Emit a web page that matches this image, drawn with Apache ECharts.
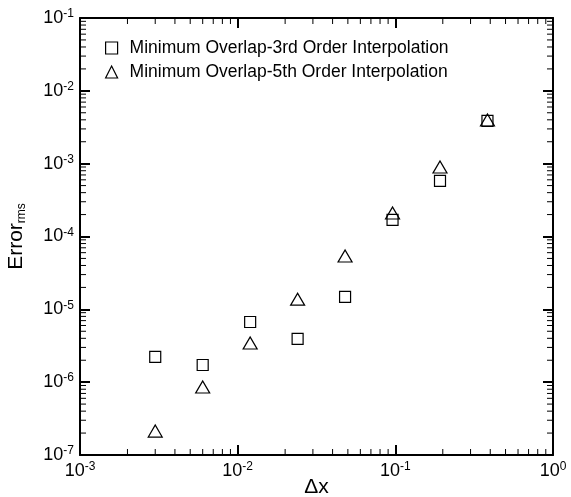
<!DOCTYPE html>
<html><head><meta charset="utf-8">
<script src="https://cdn.jsdelivr.net/npm/echarts@6/dist/echarts.min.js"></script>
<style>html,body{margin:0;padding:0;background:#fff}#c{width:571px;height:497px}</style>
</head><body><div id="c"></div>
<script>
const dx = [0.003, 0.006, 0.012, 0.024, 0.048, 0.096, 0.192, 0.384];
const err3rd = [2.22e-6, 1.72e-6, 6.7e-6, 3.92e-6, 1.48e-5, 1.69e-4, 5.8e-4, 3.86e-3];
const err5th = [2.13e-7, 8.6e-7, 3.45e-6, 1.38e-5, 5.4e-5, 2.1e-4, 9.0e-4, 3.98e-3];
const seriesNames = ['Minimum Overlap-3rd Order Interpolation', 'Minimum Overlap-5th Order Interpolation'];
const xRange = [1e-3, 1];
const yRange = [1e-7, 1e-1];
const xDecades = [1e-3, 1e-2, 1e-1];
const yDecades = [1e-7, 1e-6, 1e-5, 1e-4, 1e-3, 1e-2];
const minorMult = [2, 3, 4, 5, 6, 7, 8, 9];

const FONT = '"Liberation Sans", Arial, Helvetica, sans-serif';
const chart = echarts.init(document.getElementById('c'), null, {renderer: 'canvas'});

function pow10Label(v) {
  const e = Math.round(Math.log10(v));
  return '{b|10}{s|' + e + '}';
}
const labelRich = {
  b: {fontSize: 18, fontFamily: FONT, color: '#000', lineHeight: 20, verticalAlign: 'middle'},
  s: {fontSize: 12, fontFamily: FONT, color: '#000', lineHeight: 20, verticalAlign: 'top', padding: [0, 0, 6, 0]}
};

const tickData = [];
xDecades.forEach(d => minorMult.forEach(m => tickData.push([m * d, yRange[0], 0])));
yDecades.forEach(d => minorMult.forEach(m => tickData.push([xRange[0], m * d, 1])));

function axisCommon(show) {
  return {
    axisLine: {show: true, onZero: false, lineStyle: {color: '#000', width: 2}},
    axisTick: {show: true, inside: true, length: 10, lineStyle: {color: '#000', width: 2}},
    splitLine: {show: false},
    axisLabel: show ? {formatter: pow10Label, rich: labelRich, margin: 6} : {show: false}
  };
}

const option = {
  backgroundColor: '#fff',
  animation: false,
  grid: {left: 80, right: 18, top: 18, bottom: 42, containLabel: false, outerBoundsMode: 'none'},
  legend: {
    data: seriesNames,
    orient: 'vertical',
    left: 105, top: 39, padding: 0,
    itemWidth: 12, itemHeight: 12,
    itemGap: 6, itemTextGap: 13,
    itemStyle: {borderWidth: 1.2},
    textStyle: {fontSize: 17.5, fontFamily: FONT, color: '#000', lineHeight: 17, padding: [0, 0, 0, 7]}
  },
  xAxis: [
    Object.assign({type: 'log', logBase: 10, min: xRange[0], max: xRange[1], position: 'bottom',
      name: 'Δx', nameLocation: 'middle', nameGap: 22, nameMoveOverlap: false,
      nameTextStyle: {fontSize: 21, fontFamily: FONT, color: '#000', verticalAlign: 'top'}}, axisCommon(true)),
    Object.assign({type: 'log', logBase: 10, min: xRange[0], max: xRange[1], position: 'top'}, axisCommon(false))
  ],
  yAxis: [
    Object.assign({type: 'log', logBase: 10, min: yRange[0], max: yRange[1], position: 'left',
      name: '{a|Error}{r|rms}', nameLocation: 'middle', nameGap: 52, nameRotate: 90,
      nameTextStyle: {rich: {
        a: {fontSize: 21, fontFamily: FONT, color: '#000', lineHeight: 24, verticalAlign: 'middle'},
        r: {fontSize: 12, fontFamily: FONT, color: '#000', lineHeight: 24, verticalAlign: 'bottom', padding: [8, 0, 0, 0]}
      }}}, axisCommon(true)),
    Object.assign({type: 'log', logBase: 10, min: yRange[0], max: yRange[1], position: 'right'}, axisCommon(false))
  ],
  series: [
    {
      name: seriesNames[0], type: 'scatter', symbol: 'rect', symbolSize: 11,
      data: dx.map((x, i) => [x, err3rd[i]]),
      itemStyle: {color: '#fff', borderColor: '#000', borderWidth: 1.2, opacity: 1},
      z: 3
    },
    {
      name: seriesNames[1], type: 'scatter', symbol: 'triangle', symbolSize: [14, 12],
      data: dx.map((x, i) => [x, err5th[i]]),
      itemStyle: {color: 'rgba(255,255,255,0)', borderColor: '#000', borderWidth: 1.2, opacity: 1},
      z: 4
    },
    {
      type: 'custom', silent: true, clip: false, z: 5,
      data: tickData,
      encode: {x: 0, y: 1},
      renderItem: function (params, api) {
        const kind = api.value(2);
        const style = {stroke: '#000', lineWidth: 1};
        const L = 6;
        if (kind === 0) {
          const v = api.value(0);
          const b = api.coord([v, yRange[0]]);
          const t = api.coord([v, yRange[1]]);
          return {type: 'group', children: [
            {type: 'line', shape: {x1: b[0], y1: b[1], x2: b[0], y2: b[1] - L}, style: style},
            {type: 'line', shape: {x1: t[0], y1: t[1], x2: t[0], y2: t[1] + L}, style: style}
          ]};
        } else {
          const v = api.value(1);
          const l = api.coord([xRange[0], v]);
          const r = api.coord([xRange[1], v]);
          return {type: 'group', children: [
            {type: 'line', shape: {x1: l[0], y1: l[1], x2: l[0] + L, y2: l[1]}, style: style},
            {type: 'line', shape: {x1: r[0], y1: r[1], x2: r[0] - L, y2: r[1]}, style: style}
          ]};
        }
      }
    }
  ]
};
chart.setOption(option);
</script>
</body></html>
